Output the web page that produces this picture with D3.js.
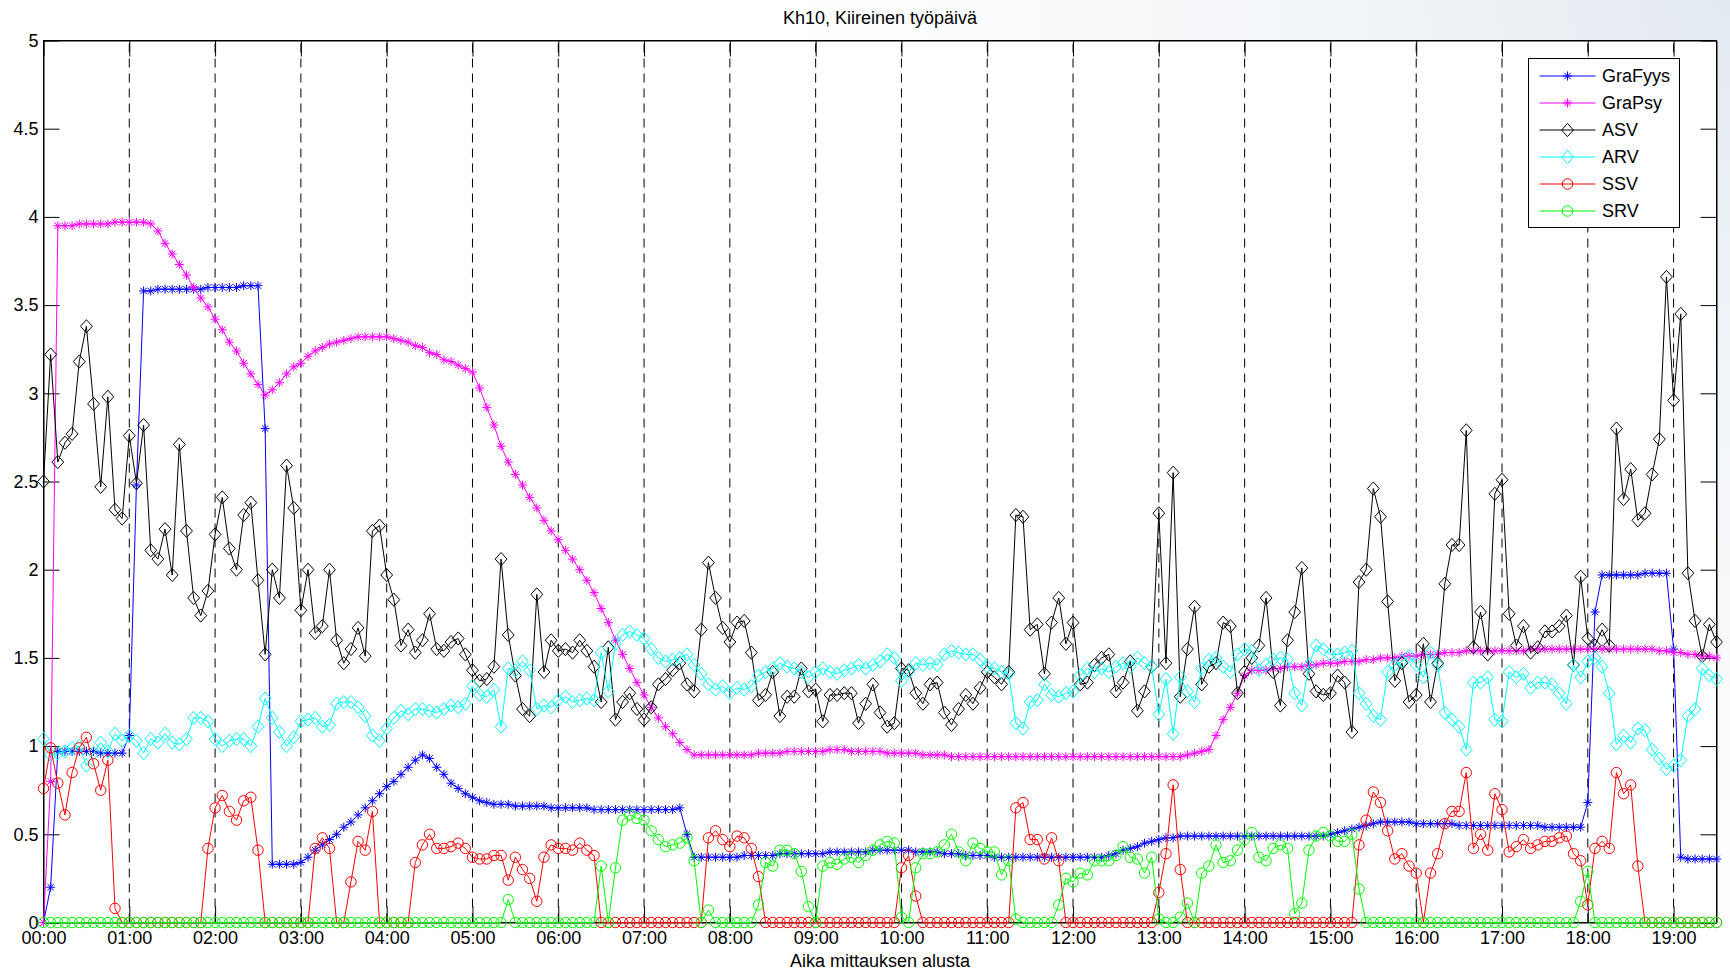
<!DOCTYPE html>
<html>
<head>
<meta charset="utf-8">
<title>Kh10, Kiireinen työpäivä</title>
<script src="https://cdn.jsdelivr.net/npm/d3@7"></script>
<style>
  html, body { margin: 0; padding: 0; background: #ffffff; }
  svg { display: block; }
  text { font-family: "Liberation Sans", Arial, Helvetica, sans-serif; fill: #000; }
</style>
</head>
<body>
<svg id="chart" width="1730" height="972"></svg>
<script>
// ---- labels ----
const chartTitle = "Kh10, Kiireinen työpäivä";
const xAxisLabel = "Aika mittauksen alusta";
const hourLabels = ["00:00","01:00","02:00","03:00","04:00","05:00","06:00","07:00","08:00","09:00",
                    "10:00","11:00","12:00","13:00","14:00","15:00","16:00","17:00","18:00","19:00"];
const yTickValues = [0, 0.5, 1, 1.5, 2, 2.5, 3, 3.5, 4, 4.5, 5];
const seriesNames = ["GraFyys", "GraPsy", "ASV", "ARV", "SSV", "SRV"];
const sampleStepMinutes = 5;   // one sample every five minutes, 00:00 ... 19:30

// ---- series values (one row per hour) ----
const graFyys = [
  0, 0.2, 0.97, 0.97, 0.97, 0.97, 0.97, 0.97, 0.96, 0.96, 0.96, 0.96,
  1.06, 2.48, 3.58, 3.58, 3.59, 3.59, 3.59, 3.59, 3.59, 3.59, 3.59, 3.6,
  3.6, 3.6, 3.6, 3.6, 3.61, 3.61, 3.61, 2.8, 0.33, 0.33, 0.33, 0.33,
  0.34, 0.37, 0.41, 0.44, 0.47, 0.5, 0.54, 0.57, 0.61, 0.65, 0.69, 0.73,
  0.77, 0.8, 0.84, 0.88, 0.92, 0.95, 0.93, 0.88, 0.84, 0.79, 0.76, 0.73,
  0.71, 0.69, 0.68, 0.67, 0.67, 0.67, 0.66, 0.66, 0.66, 0.66, 0.66, 0.65,
  0.65, 0.65, 0.65, 0.65, 0.65, 0.64, 0.64, 0.64, 0.64, 0.64, 0.64, 0.64,
  0.64, 0.64, 0.64, 0.64, 0.64, 0.65, 0.5, 0.37, 0.37, 0.37, 0.37, 0.37,
  0.37, 0.37, 0.38, 0.38, 0.38, 0.38, 0.38, 0.39, 0.39, 0.39, 0.39, 0.39,
  0.39, 0.39, 0.4, 0.4, 0.4, 0.4, 0.4, 0.4, 0.41, 0.41, 0.41, 0.41,
  0.41, 0.41, 0.4, 0.4, 0.4, 0.4, 0.39, 0.39, 0.39, 0.38, 0.38, 0.38,
  0.38, 0.37, 0.37, 0.37, 0.37, 0.37, 0.37, 0.37, 0.37, 0.37, 0.37, 0.37,
  0.37, 0.37, 0.37, 0.37, 0.37, 0.38, 0.39, 0.41, 0.42, 0.43, 0.45, 0.46,
  0.47, 0.48, 0.48, 0.49, 0.49, 0.49, 0.49, 0.49, 0.49, 0.49, 0.49, 0.49,
  0.49, 0.49, 0.49, 0.49, 0.49, 0.49, 0.49, 0.49, 0.49, 0.49, 0.49, 0.49,
  0.5, 0.51, 0.52, 0.53, 0.54, 0.55, 0.56, 0.57, 0.57, 0.57, 0.57, 0.57,
  0.56, 0.56, 0.56, 0.56, 0.56, 0.56, 0.55, 0.55, 0.55, 0.55, 0.55, 0.55,
  0.55, 0.55, 0.55, 0.55, 0.55, 0.55, 0.54, 0.54, 0.54, 0.54, 0.54, 0.54,
  0.68, 1.76, 1.97, 1.97, 1.97, 1.97, 1.97, 1.97, 1.98, 1.98, 1.98, 1.98,
  1.55, 0.37, 0.36, 0.36, 0.36, 0.36, 0.36
];

const graPsy = [
  0, 0.8, 3.95, 3.95, 3.95, 3.96, 3.96, 3.96, 3.96, 3.96, 3.97, 3.97,
  3.97, 3.97, 3.97, 3.96, 3.92, 3.85, 3.79, 3.73, 3.67, 3.6, 3.54, 3.49,
  3.42, 3.36, 3.29, 3.24, 3.17, 3.11, 3.05, 2.99, 3.02, 3.06, 3.11, 3.15,
  3.17, 3.21, 3.24, 3.26, 3.28, 3.29, 3.3, 3.31, 3.32, 3.32, 3.32, 3.32,
  3.32, 3.31, 3.3, 3.29, 3.27, 3.26, 3.23, 3.22, 3.19, 3.18, 3.16, 3.14,
  3.12, 3.03, 2.92, 2.82, 2.7, 2.61, 2.54, 2.48, 2.41, 2.35, 2.28, 2.22,
  2.17, 2.11, 2.06, 2.0, 1.94, 1.87, 1.78, 1.7, 1.6, 1.52, 1.44, 1.36,
  1.29, 1.22, 1.16, 1.11, 1.07, 1.02, 0.98, 0.95, 0.95, 0.95, 0.95, 0.95,
  0.95, 0.95, 0.95, 0.95, 0.96, 0.96, 0.96, 0.96, 0.97, 0.97, 0.97, 0.97,
  0.97, 0.97, 0.98, 0.98, 0.98, 0.97, 0.97, 0.97, 0.97, 0.97, 0.96, 0.96,
  0.96, 0.96, 0.96, 0.95, 0.95, 0.95, 0.95, 0.94, 0.94, 0.94, 0.94, 0.94,
  0.94, 0.94, 0.94, 0.94, 0.94, 0.94, 0.94, 0.94, 0.94, 0.94, 0.94, 0.94,
  0.94, 0.94, 0.94, 0.94, 0.94, 0.94, 0.94, 0.94, 0.94, 0.94, 0.94, 0.94,
  0.94, 0.94, 0.94, 0.94, 0.95, 0.96, 0.97, 0.98, 1.06, 1.15, 1.22, 1.3,
  1.4, 1.43, 1.43, 1.43, 1.44, 1.44, 1.45, 1.45, 1.45, 1.46, 1.46, 1.47,
  1.47, 1.47, 1.48, 1.48, 1.48, 1.49, 1.49, 1.5, 1.5, 1.5, 1.51, 1.51,
  1.51, 1.52, 1.52, 1.52, 1.53, 1.53, 1.53, 1.54, 1.54, 1.54, 1.54, 1.54,
  1.54, 1.54, 1.54, 1.54, 1.55, 1.55, 1.55, 1.55, 1.55, 1.55, 1.55, 1.55,
  1.55, 1.55, 1.55, 1.55, 1.55, 1.55, 1.55, 1.55, 1.55, 1.55, 1.54, 1.54,
  1.53, 1.53, 1.52, 1.52, 1.51, 1.51, 1.5
];

const asv = [
  2.5, 3.22, 2.61, 2.72, 2.77, 3.18, 3.38, 2.94, 2.47, 2.98, 2.34, 2.29,
  2.76, 2.49, 2.82, 2.11, 2.06, 2.23, 1.97, 2.71, 2.22, 1.84, 1.74, 1.88,
  2.2, 2.41, 2.12, 2.0, 2.31, 2.38, 1.94, 1.52, 2.0, 1.84, 2.59, 2.35,
  1.77, 2.0, 1.64, 1.68, 2.0, 1.6, 1.47, 1.55, 1.67, 1.51, 2.22, 2.25,
  1.97, 1.83, 1.57, 1.66, 1.53, 1.6, 1.75, 1.55, 1.54, 1.59, 1.61, 1.52,
  1.43, 1.37, 1.38, 1.45, 2.06, 1.63, 1.4, 1.21, 1.17, 1.86, 1.42, 1.6,
  1.54, 1.55, 1.53, 1.6, 1.54, 1.45, 1.25, 1.56, 1.15, 1.25, 1.3, 1.21,
  1.15, 1.22, 1.35, 1.38, 1.43, 1.47, 1.35, 1.31, 1.66, 2.04, 1.84, 1.67,
  1.59, 1.7, 1.71, 1.53, 1.26, 1.29, 1.42, 1.17, 1.28, 1.28, 1.44, 1.31,
  1.32, 1.14, 1.29, 1.29, 1.3, 1.3, 1.13, 1.24, 1.35, 1.19, 1.11, 1.13,
  1.44, 1.43, 1.3, 1.24, 1.35, 1.36, 1.19, 1.12, 1.21, 1.29, 1.24, 1.33,
  1.42, 1.39, 1.35, 1.42, 2.31, 2.3, 1.66, 1.69, 1.41, 1.7, 1.84, 1.58,
  1.7, 1.35, 1.36, 1.46, 1.5, 1.52, 1.31, 1.36, 1.48, 1.2, 1.31, 1.45,
  2.32, 1.47, 2.55, 1.28, 1.55, 1.79, 1.35, 1.45, 1.47, 1.7, 1.68, 1.3,
  1.42, 1.5, 1.57, 1.84, 1.42, 1.23, 1.6, 1.76, 2.01, 1.41, 1.31, 1.29,
  1.3, 1.4, 1.36, 1.08, 1.93, 2.0, 2.46, 2.3, 1.82, 1.37, 1.47, 1.25,
  1.29, 1.58, 1.25, 1.47, 1.92, 2.14, 2.14, 2.79, 1.56, 1.76, 1.52, 2.43,
  2.51, 1.75, 1.57, 1.68, 1.53, 1.56, 1.65, 1.65, 1.68, 1.74, 1.46, 1.96,
  1.61, 1.57, 1.66, 1.57, 2.8, 2.4, 2.57, 2.28, 2.32, 2.54, 2.74, 3.66,
  2.96, 3.45, 1.98, 1.71, 1.51, 1.69, 1.59
];

const arv = [
  1.04, 0.95, 0.96, 0.97, 0.99, 1.0, 0.89, 0.96, 1.02, 0.97, 1.07, 1.03,
  1.06, 1.03, 0.96, 1.04, 1.02, 1.07, 1.02, 1.01, 1.04, 1.16, 1.16, 1.14,
  1.04, 1.0, 1.03, 1.04, 1.04, 1.0, 1.11, 1.27, 1.16, 1.08, 1.0, 1.05,
  1.14, 1.15, 1.16, 1.11, 1.12, 1.24, 1.25, 1.25, 1.22, 1.17, 1.06, 1.03,
  1.1, 1.16, 1.2, 1.18, 1.21, 1.21, 1.2, 1.19, 1.21, 1.23, 1.22, 1.24,
  1.34, 1.29, 1.28, 1.32, 1.11, 1.44, 1.43, 1.48, 1.43, 1.21, 1.23, 1.22,
  1.26, 1.28, 1.25, 1.26, 1.27, 1.26, 1.53, 1.31, 1.58, 1.63, 1.65, 1.63,
  1.61, 1.55, 1.5, 1.48, 1.49, 1.5, 1.52, 1.46, 1.41, 1.35, 1.32, 1.34,
  1.3, 1.33, 1.32, 1.34, 1.4, 1.42, 1.44, 1.47, 1.45, 1.44, 1.42, 1.39,
  1.42, 1.44, 1.42, 1.41, 1.43, 1.44, 1.46, 1.44, 1.46, 1.48, 1.52, 1.5,
  1.37, 1.42, 1.47, 1.46, 1.47, 1.46, 1.52, 1.54, 1.53, 1.52, 1.52, 1.49,
  1.45, 1.44, 1.42, 1.41, 1.13, 1.1, 1.25, 1.26, 1.35, 1.29, 1.28, 1.3,
  1.31, 1.4, 1.44, 1.42, 1.44, 1.42, 1.45, 1.47, 1.45, 1.5, 1.47, 1.45,
  1.18, 1.38, 1.07, 1.39, 1.31, 1.25, 1.44, 1.49, 1.5, 1.45, 1.42, 1.52,
  1.55, 1.54, 1.43, 1.46, 1.49, 1.5, 1.49, 1.3, 1.23, 1.46, 1.57, 1.55,
  1.52, 1.52, 1.53, 1.54, 1.3, 1.24, 1.17, 1.15, 1.42, 1.46, 1.48, 1.51,
  1.46, 1.39, 1.53, 1.46, 1.19, 1.15, 1.11, 0.98, 1.36, 1.36, 1.39, 1.15,
  1.14, 1.42, 1.39, 1.41, 1.33, 1.36, 1.36, 1.35, 1.3, 1.24, 1.46, 1.39,
  1.48, 1.5, 1.45, 1.3, 1.01, 1.06, 1.02, 1.1, 1.09, 0.98, 0.93, 0.87,
  0.89, 0.92, 1.17, 1.21, 1.44, 1.4, 1.38
];

const ssv = [
  0.76, 0.99, 0.79, 0.61, 0.85, 0.99, 1.05, 0.9, 0.75, 0.92, 0.08, 0,
  0, 0, 0, 0, 0, 0, 0, 0, 0, 0, 0, 0.42,
  0.65, 0.72, 0.63, 0.58, 0.69, 0.71, 0.41, 0, 0, 0, 0, 0,
  0, 0, 0.42, 0.48, 0.42, 0, 0, 0.23, 0.46, 0.41, 0.63, 0,
  0, 0, 0, 0, 0.34, 0.44, 0.5, 0.42, 0.42, 0.43, 0.45, 0.42,
  0.37, 0.36, 0.36, 0.38, 0.38, 0.24, 0.37, 0.3, 0.25, 0.12, 0.37, 0.44,
  0.42, 0.42, 0.41, 0.45, 0.41, 0.38, 0, 0, 0, 0, 0, 0,
  0, 0, 0, 0, 0, 0, 0, 0, 0, 0.48, 0.52, 0.47,
  0.43, 0.49, 0.48, 0.42, 0.26, 0, 0, 0, 0, 0, 0, 0,
  0, 0, 0, 0, 0, 0, 0, 0, 0, 0, 0, 0,
  0.31, 0.38, 0.15, 0, 0, 0, 0, 0, 0, 0, 0, 0,
  0, 0, 0, 0, 0.65, 0.68, 0.47, 0.47, 0.36, 0.48, 0.35, 0,
  0, 0, 0, 0, 0, 0, 0, 0, 0, 0, 0, 0,
  0.17, 0.39, 0.78, 0.3, 0, 0, 0, 0, 0, 0, 0, 0,
  0, 0, 0, 0, 0, 0, 0, 0, 0, 0, 0, 0,
  0, 0, 0, 0, 0.44, 0.58, 0.74, 0.68, 0.52, 0.36, 0.39, 0.32,
  0.28, 0, 0.28, 0.39, 0.56, 0.63, 0.63, 0.85, 0.42, 0.5, 0.41, 0.73,
  0.64, 0.4, 0.43, 0.47, 0.42, 0.44, 0.46, 0.46, 0.48, 0.49, 0.39, 0.35,
  0.1, 0.42, 0.46, 0.42, 0.85, 0.73, 0.78, 0.32, 0, 0, 0, 0,
  0, 0, 0, 0, 0, 0, 0
];

const srv = [
  0, 0, 0, 0, 0, 0, 0, 0, 0, 0, 0, 0,
  0, 0, 0, 0, 0, 0, 0, 0, 0, 0, 0, 0,
  0, 0, 0, 0, 0, 0, 0, 0, 0, 0, 0, 0,
  0, 0, 0, 0, 0, 0, 0, 0, 0, 0, 0, 0,
  0, 0, 0, 0, 0, 0, 0, 0, 0, 0, 0, 0,
  0, 0, 0, 0, 0, 0.13, 0, 0, 0, 0, 0, 0,
  0, 0, 0, 0, 0, 0, 0.32, 0, 0.31, 0.58, 0.61, 0.59,
  0.58, 0.52, 0.47, 0.43, 0.44, 0.45, 0.48, 0.35, 0, 0.07, 0, 0,
  0, 0, 0, 0, 0.1, 0.34, 0.32, 0.41, 0.41, 0.39, 0.29, 0.09,
  0, 0.32, 0.34, 0.33, 0.36, 0.37, 0.34, 0.38, 0.41, 0.44, 0.46, 0.45,
  0.03, 0, 0.31, 0.39, 0.39, 0.4, 0.44, 0.5, 0.4, 0.35, 0.45, 0.42,
  0.4, 0.4, 0.27, 0.35, 0.02, 0, 0, 0, 0, 0, 0.1, 0.25,
  0.23, 0.28, 0.27, 0.35, 0.35, 0.35, 0.38, 0.43, 0.37, 0.36, 0.28, 0.37,
  0.02, 0, 0, 0.03, 0.11, 0, 0.28, 0.32, 0.44, 0.34, 0.35, 0.41,
  0.47, 0.51, 0.37, 0.35, 0.42, 0.44, 0.42, 0.05, 0.11, 0.41, 0.49, 0.51,
  0.49, 0.46, 0.46, 0.5, 0.19, 0, 0, 0, 0, 0, 0, 0,
  0, 0, 0, 0, 0, 0, 0, 0, 0, 0, 0, 0,
  0, 0, 0, 0, 0, 0, 0, 0, 0, 0, 0, 0.12,
  0.29, 0, 0, 0, 0, 0, 0, 0, 0, 0, 0, 0,
  0, 0, 0, 0, 0, 0, 0
];

// ---- marker shapes ----
const markerPaths = {
  star: "M-4.5,0H4.5M0,-4.5V4.5M-3.2,-3.2L3.2,3.2M-3.2,3.2L3.2,-3.2",
  diamond: "M0,-6.6L5.9,0L0,6.6L-5.9,0Z",
  circle: "M5.2,0A5.2,5.2 0 1,1 -5.2,0A5.2,5.2 0 1,1 5.2,0Z"
};

const series = [
  { name: seriesNames[0], values: graFyys, color: "#0000ff", marker: "star" },
  { name: seriesNames[1], values: graPsy,  color: "#ff00ff", marker: "star" },
  { name: seriesNames[2], values: asv,     color: "#000000", marker: "diamond" },
  { name: seriesNames[3], values: arv,     color: "#00ffff", marker: "diamond" },
  { name: seriesNames[4], values: ssv,     color: "#ff0000", marker: "circle" },
  { name: seriesNames[5], values: srv,     color: "#00ff00", marker: "circle" }
];

// ---- layout ----
const W = 1730, H = 972;
const plot = { left: 43.5, right: 1716.5, top: 40.5, bottom: 922.5 };
const lastMinute = (graFyys.length - 1) * sampleStepMinutes;
const tickLen = 16;

const x = d3.scaleLinear().domain([0, lastMinute]).range([plot.left, plot.right]);
const y = d3.scaleLinear().domain([0, 5]).range([plot.bottom, plot.top]);

const svg = d3.select("#chart");

// figure background with a faint tint toward the upper right corner
const defs = svg.append("defs");
const bg = defs.append("radialGradient").attr("id", "figBg")
  .attr("gradientUnits", "userSpaceOnUse")
  .attr("cx", W).attr("cy", 0).attr("r", 950);
bg.append("stop").attr("offset", "0").attr("stop-color", "#e3eaf1");
bg.append("stop").attr("offset", "0.45").attr("stop-color", "#f3f6f9");
bg.append("stop").attr("offset", "1").attr("stop-color", "#ffffff");
svg.append("rect").attr("width", W).attr("height", H).attr("fill", "url(#figBg)");

// plot area
svg.append("rect")
  .attr("x", plot.left).attr("y", plot.top)
  .attr("width", plot.right - plot.left).attr("height", plot.bottom - plot.top)
  .attr("fill", "#ffffff");

const hourMinutes = hourLabels.map((_, i) => i * 60);

// vertical dashed grid at each hour
svg.append("g").attr("class", "grid")
  .selectAll("line").data(hourMinutes.slice(1)).join("line")
  .attr("x1", d => x(d)).attr("x2", d => x(d))
  .attr("y1", plot.bottom).attr("y2", plot.top)
  .attr("stroke", "#000").attr("stroke-width", 1)
  .attr("stroke-dasharray", "9,6");

// axes
const fontSize = 18;
const xAxisB = d3.axisBottom(x).tickValues(hourMinutes)
  .tickFormat((d, i) => hourLabels[i]).tickSizeInner(-tickLen).tickSizeOuter(0).tickPadding(8.5);
const xAxisT = d3.axisTop(x).tickValues(hourMinutes)
  .tickFormat("").tickSizeInner(-tickLen).tickSizeOuter(0);
const yAxisL = d3.axisLeft(y).tickValues(yTickValues)
  .tickFormat(d3.format("~g")).tickSizeInner(-tickLen).tickSizeOuter(0).tickPadding(5);
const yAxisR = d3.axisRight(y).tickValues(yTickValues)
  .tickFormat("").tickSizeInner(-tickLen).tickSizeOuter(0);

function styleAxis(g) {
  g.attr("font-size", fontSize)
   .attr("font-family", "'Liberation Sans', Arial, Helvetica, sans-serif");
  g.selectAll("path.domain").attr("stroke", "#000");
  g.selectAll(".tick line").attr("stroke", "#000");
  g.selectAll(".tick text").attr("fill", "#000");
}

svg.append("g").attr("transform", `translate(0,${plot.bottom})`).call(xAxisB).call(styleAxis);
svg.append("g").attr("transform", `translate(0,${plot.top})`).call(xAxisT).call(styleAxis);
svg.append("g").attr("transform", `translate(${plot.left},0)`).call(yAxisL).call(styleAxis);
svg.append("g").attr("transform", `translate(${plot.right},0)`).call(yAxisR).call(styleAxis);

// axes box
svg.append("rect")
  .attr("x", plot.left).attr("y", plot.top)
  .attr("width", plot.right - plot.left).attr("height", plot.bottom - plot.top)
  .attr("fill", "none").attr("stroke", "#000").attr("stroke-width", 1);

// data: each series draws its line and then its markers
const lineGen = d3.line()
  .x((d, i) => x(i * sampleStepMinutes))
  .y(d => y(d));

const dataLayer = svg.append("g").attr("class", "data");
series.forEach(s => {
  const g = dataLayer.append("g");
  g.append("path")
    .attr("d", lineGen(s.values))
    .attr("fill", "none")
    .attr("stroke", s.color)
    .attr("stroke-width", 1)
    .attr("stroke-linejoin", "round");
  g.selectAll("path.mk").data(s.values).join("path")
    .attr("class", "mk")
    .attr("d", markerPaths[s.marker])
    .attr("transform", (d, i) => `translate(${x(i * sampleStepMinutes)},${y(d)})`)
    .attr("fill", "none")
    .attr("stroke", s.color)
    .attr("stroke-width", 1);
});

// title and axis label
svg.append("text")
  .attr("x", (plot.left + plot.right) / 2).attr("y", 24)
  .attr("text-anchor", "middle").attr("font-size", fontSize)
  .text(chartTitle);

svg.append("text")
  .attr("x", (plot.left + plot.right) / 2).attr("y", 967)
  .attr("text-anchor", "middle").attr("font-size", fontSize)
  .text(xAxisLabel);

// legend
const legend = { x: 1528.5, y: 58.5, w: 151, h: 169, row0: 76, rowStep: 27 };
const lg = svg.append("g").attr("class", "legend");
lg.append("rect")
  .attr("x", legend.x).attr("y", legend.y)
  .attr("width", legend.w).attr("height", legend.h)
  .attr("fill", "#ffffff").attr("stroke", "#000").attr("stroke-width", 1);

series.forEach((s, i) => {
  const cy = legend.row0 + i * legend.rowStep;
  lg.append("line")
    .attr("x1", 1539.5).attr("x2", 1595.5)
    .attr("y1", cy).attr("y2", cy)
    .attr("stroke", s.color).attr("stroke-width", 1);
  lg.append("path")
    .attr("d", markerPaths[s.marker])
    .attr("transform", `translate(1567.5,${cy})`)
    .attr("fill", "none").attr("stroke", s.color).attr("stroke-width", 1);
  lg.append("text")
    .attr("x", 1602).attr("y", cy).attr("dy", "0.35em")
    .attr("font-size", fontSize)
    .text(s.name);
});
</script>
</body>
</html>
